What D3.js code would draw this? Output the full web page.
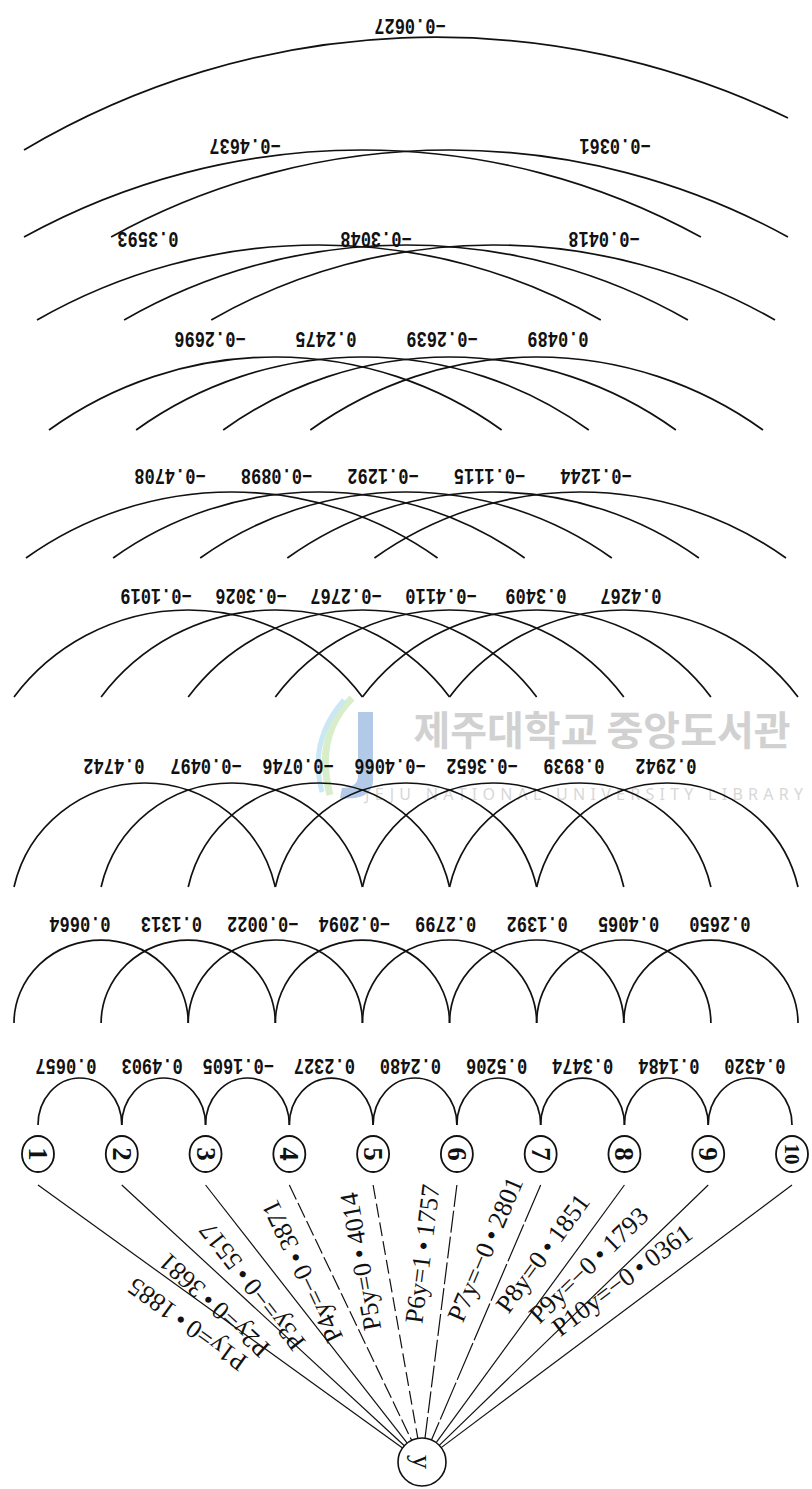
<!DOCTYPE html>
<html lang="en">
<head>
<meta charset="UTF-8">
<title>path diagram</title>
<script src="https://cdn.jsdelivr.net/npm/d3@7/dist/d3.min.js"></script>
<style>
  body { margin: 0; background: #fff; }
</style>
</head>
<body>
<script>

var width = 812;
var height = 1489;

// the ten factors and the response
var factors = ["1", "2", "3", "4", "5", "6", "7", "8", "9", "10"];
var response = "y";

// correlations between factors, grouped by how far apart the two factors are,
// left to right as they stand in the picture
var corrLag1 = [0.0657, 0.4903, -0.1605, 0.2327, 0.2480, 0.5206, 0.3474, 0.1484, 0.4320];
var corrLag2 = [0.0664, 0.1313, -0.0022, -0.2094, 0.2799, 0.1392, 0.4065, 0.2650];
var corrLag3 = [0.4742, -0.0497, -0.0746, -0.4066, -0.3652, 0.8939, 0.2942];
var corrLag4 = [-0.1019, -0.3026, -0.2767, -0.4110, 0.3409, 0.4267];
var corrLag5 = [-0.4708, -0.0898, -0.1292, -0.1115, -0.1244];
var corrLag6 = [-0.2696, 0.2475, -0.2639, 0.0489];
var corrLag7 = [0.3593, -0.3048, -0.0418];
var corrLag8 = [-0.4637, -0.0361];
var corrLag9 = [-0.0627];

// path coefficients factor -> y
var pathCoef = [0.1885, 0.3681, -0.5517, -0.3871, 0.4014, 1.1757, -0.2801, 0.1851, -0.1793, -0.0361];

var corrByLag = [corrLag1, corrLag2, corrLag3, corrLag4, corrLag5, corrLag6, corrLag7, corrLag8, corrLag9];

// layout of each band of arcs (top of arcs, foot of arcs, trim of ends, label row, label spread)
var bands = [
    {peak: 1078, foot: 1125, trim: 0, labelY: 1065, l0: 66, l1: 755},
    {peak: 940, foot: 1023, trim: 0, labelY: 923, l0: 80, l1: 720},
    {peak: 783, foot: 887, trim: 0, labelY: 765, l0: 114, l1: 666},
    {peak: 610, foot: 697, trim: 0, labelY: 595, l0: 156, l1: 631},
    {peak: 492, foot: 558, trim: 12, labelY: 475, l0: 170, l1: 596},
    {peak: 357, foot: 430, trim: 35, labelY: 338, l0: 210, l1: 558},
    {peak: 245, foot: 320, trim: 23, labelY: 238, l0: 148, l1: 604},
    {peak: 150, foot: 237, trim: 10, labelY: 145, l0: 245, l1: 615},
    {peak: 38, foot: 150, footR: 118, trim: 10, labelY: 25, l0: 410, l1: 410}
];

var svg = d3.select("body").append("svg")
    .attr("width", width)
    .attr("height", height)
    .style("background", "#fff");

var xNode = d3.scalePoint().domain(factors).range([38, 792]);
var xArc = d3.scalePoint().domain(factors).range([14, 798]);

var nodeY = 1154, nodeR = 17;
var yNode = {x: 422, y: 1462, r: 24};

var fmt = d3.format(".4f");

// ---- watermark of the scan
var wm = svg.append("g").attr("opacity", 0.6);
wm.append("path")
    .attr("d", "M352,698 C330,720 318,750 330,795")
    .attr("fill", "none").attr("stroke", "#bfe3a8").attr("stroke-width", 7);
wm.append("path")
    .attr("d", "M344,700 C322,725 312,755 322,792")
    .attr("fill", "none").attr("stroke", "#a8d8ee").attr("stroke-width", 5);
wm.append("path")
    .attr("d", "M358,712 L373,712 L373,780 C373,795 360,800 340,798 L342,788 C352,788 358,784 358,776 Z")
    .attr("fill", "#7fa6d8");
wm.append("text")
    .attr("x", 602).attr("y", 745)
    .attr("text-anchor", "middle")
    .attr("font-family", "Noto Sans CJK KR")
    .attr("font-weight", 700)
    .attr("font-size", 40)
    .attr("fill", "#b4b4b4")
    .text("제주대학교 중앙도서관");
wm.append("text")
    .attr("x", 365).attr("y", 800)
    .attr("textLength", 438)
    .attr("lengthAdjust", "spacing")
    .attr("font-family", "Noto Sans")
    .attr("font-size", 16)
    .attr("fill", "#bdbdbd")
    .text("JEJU NATIONAL UNIVERSITY LIBRARY");

// ---- arcs between factors
function arcPath(d, b, xs) {
    var x0 = xs(d.from) + b.trim, x1 = xs(d.to) - b.trim;
    var fL = b.foot, fR = b.footR !== undefined ? b.footR : b.foot;
    var half = (x1 - x0) / 2, h = (fL + fR) / 2 - b.peak;
    var rx, ry;
    if (h > half * 0.8) { rx = half; ry = h; }
    else { rx = ry = (half * half + h * h) / (2 * h); }
    return "M" + x0 + "," + fL + "A" + rx + "," + ry + " 0 0 1 " + x1 + "," + fR;
}

corrByLag.forEach(function (vals, k) {
    var lag = k + 1;
    var b = bands[k];
    var xs = lag === 1 ? xNode : xArc;
    var arcs = vals.map(function (v, i) {
        return {from: factors[i], to: factors[i + lag], r: v, i: i};
    });
    var g = svg.append("g");
    g.selectAll("path").data(arcs).enter().append("path")
        .attr("d", function (d) { return arcPath(d, b, xs); })
        .attr("fill", "none")
        .attr("stroke", "#111")
        .attr("stroke-width", 1.7);

    var lx = d3.scaleLinear().domain([0, vals.length - 1]).range([b.l0, b.l1]);
    g.selectAll("text").data(arcs).enter().append("text")
        .attr("transform", function (d) {
            return "translate(" + lx(d.i) + "," + b.labelY + ") rotate(180) scale(1,1.25)";
        })
        .attr("text-anchor", "middle")
        .attr("dominant-baseline", "central")
        .attr("font-family", "Liberation Mono")
        .attr("font-weight", "bold")
        .attr("font-size", 17)
        .attr("fill", "#111")
        .text(function (d) { return fmt(d.r); });
});

// ---- lines factor -> y with path coefficients
var links = pathCoef.map(function (v, i) {
    var sx = xNode(factors[i]), sy = nodeY + 31;
    var dx = sx - yNode.x, dy = sy - yNode.y;
    var len = Math.sqrt(dx * dx + dy * dy);
    return {i: i, v: v, sx: sx, sy: sy, ux: dx / len, uy: dy / len, len: len};
});

var dashes = [null, null, null, "16,4", "14,5", "22,4", "40,3", null, null, null];

svg.append("g").selectAll("line").data(links).enter().append("line")
    .attr("x1", function (d) { return d.sx; })
    .attr("y1", function (d) { return d.sy; })
    .attr("x2", function (d) { return yNode.x + d.ux * yNode.r; })
    .attr("y2", function (d) { return yNode.y + d.uy * yNode.r; })
    .attr("stroke", "#111")
    .attr("stroke-width", 1.2)
    .attr("stroke-dasharray", function (d) { return dashes[d.i]; });

svg.append("g").selectAll("text").data(links).enter().append("text")
    .attr("transform", function (d) {
        var s = 205 + 100 * d.ux * d.ux;
        var px = yNode.x + d.ux * s, py = yNode.y + d.uy * s;
        var ang = Math.atan2(d.uy, d.ux) * 180 / Math.PI;
        return "translate(" + px + "," + py + ") rotate(" + ang + ")";
    })
    .attr("y", -17)
    .attr("text-anchor", "middle")
    .attr("font-family", "Liberation Serif")
    .attr("font-size", 26)
    .attr("fill", "#111")
    .text(function (d) {
        return "P" + factors[d.i] + "y=" + fmt(d.v).replace(".", "\u2009\u2022\u2009");
    });

// ---- factor nodes
var nodes = svg.append("g").selectAll("g").data(factors).enter().append("g")
    .attr("transform", function (d) { return "translate(" + xNode(d) + "," + nodeY + ")"; });
nodes.append("ellipse")
    .attr("rx", nodeR - 1).attr("ry", nodeR + 1)
    .attr("fill", "#fff")
    .attr("stroke", "#111")
    .attr("stroke-width", 1.8);
nodes.append("text")
    .attr("transform", "rotate(90)")
    .attr("text-anchor", "middle")
    .attr("dominant-baseline", "central")
    .attr("font-family", "Liberation Serif")
    .attr("font-weight", "bold")
    .attr("font-size", function (d) { return d.length > 1 ? 21 : 27; })
    .attr("fill", "#111")
    .text(function (d) { return d; });

// ---- response node
var yg = svg.append("g").attr("transform", "translate(" + yNode.x + "," + yNode.y + ")");
yg.append("circle").attr("r", yNode.r)
    .attr("fill", "#fff").attr("stroke", "#111").attr("stroke-width", 1.6);
yg.append("text")
    .attr("transform", "rotate(90)")
    .attr("text-anchor", "middle")
    .attr("dominant-baseline", "central")
    .attr("font-family", "Liberation Serif")
    .attr("font-size", 28)
    .attr("fill", "#111")
    .text(response);

</script>
</body>
</html>
